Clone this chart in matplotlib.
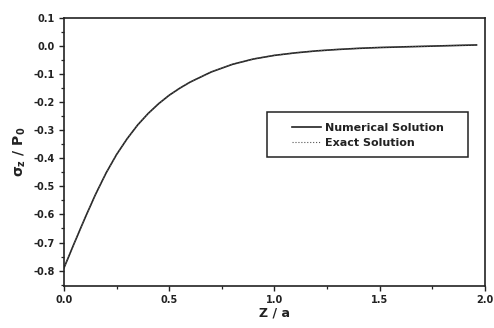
import matplotlib
matplotlib.use('Agg')
import matplotlib.pyplot as plt
from matplotlib.patches import Rectangle
from matplotlib.ticker import MultipleLocator

plt.rcParams['font.family'] = ['DejaVu Sans']
plt.rcParams['font.weight'] = 'bold'
plt.rcParams['mathtext.default'] = 'bf'

# values
z_a = [0.0, 0.05, 0.1, 0.15, 0.2, 0.25, 0.3, 0.35, 0.4, 0.45, 0.5, 0.55, 0.6,
       0.7, 0.8, 0.9, 1.0, 1.1, 1.2, 1.3, 1.4, 1.5, 1.6, 1.7, 1.8, 1.9, 1.96]
numerical = [-0.79, -0.70, -0.612, -0.528, -0.452, -0.386, -0.330, -0.281,
             -0.240, -0.205, -0.175, -0.150, -0.128, -0.092, -0.065, -0.046,
             -0.033, -0.024, -0.017, -0.012, -0.008, -0.005, -0.003, -0.001,
             0.001, 0.003, 0.004]
exact = list(numerical)

fig = plt.figure(figsize=(4.94, 3.28), dpi=100)
ax = fig.add_axes([0.1296, 0.128, 0.852, 0.817])

ax.plot(z_a, numerical, color='#222222', lw=1.2, ls='-', label='Numerical Solution')
ax.plot(z_a, exact, color='#555555', lw=0.8, ls=':', label='Exact Solution')

ax.set_xlim(0, 2.0)
ax.set_ylim(-0.855, 0.1)
ax.xaxis.set_major_locator(MultipleLocator(0.5))
ax.xaxis.set_minor_locator(MultipleLocator(0.25))
ax.yaxis.set_major_locator(MultipleLocator(0.1))
ax.yaxis.set_minor_locator(MultipleLocator(0.05))
ax.xaxis.set_major_formatter(plt.FormatStrFormatter('%.1f'))
ax.yaxis.set_major_formatter(plt.FormatStrFormatter('%.1f'))

ax.tick_params(which='both', direction='out', top=False, right=False,
               labelsize=7, colors='#222222', pad=3)
ax.tick_params(which='major', length=3.5, width=1.0)
ax.tick_params(which='minor', length=2, width=0.9)
for sp in ax.spines.values():
    sp.set_linewidth(1.2)
    sp.set_color('#222222')

ax.set_xlabel('Z / a', fontsize=9, fontweight='bold', labelpad=1, color='#222222')
ax.set_ylabel(r'$\sigma_z$ / P$_0$', fontsize=10, fontweight='bold', labelpad=4,
              color='#222222')

# legend: frame drawn wider than the entries, like the original
ax.add_patch(Rectangle((0.482, 0.481), 0.477, 0.168, transform=ax.transAxes,
                       fill=False, edgecolor='#222222', lw=1.1, zorder=4))
leg = ax.legend(loc='center left', bbox_to_anchor=(0.528, 0.562), fontsize=8,
                frameon=False, handlelength=2.6, handletextpad=0.35,
                borderpad=0, labelspacing=0.45)
for t in leg.get_texts():
    t.set_fontweight('bold')
    t.set_color('#222222')

fig.savefig('out.png', dpi=100)
